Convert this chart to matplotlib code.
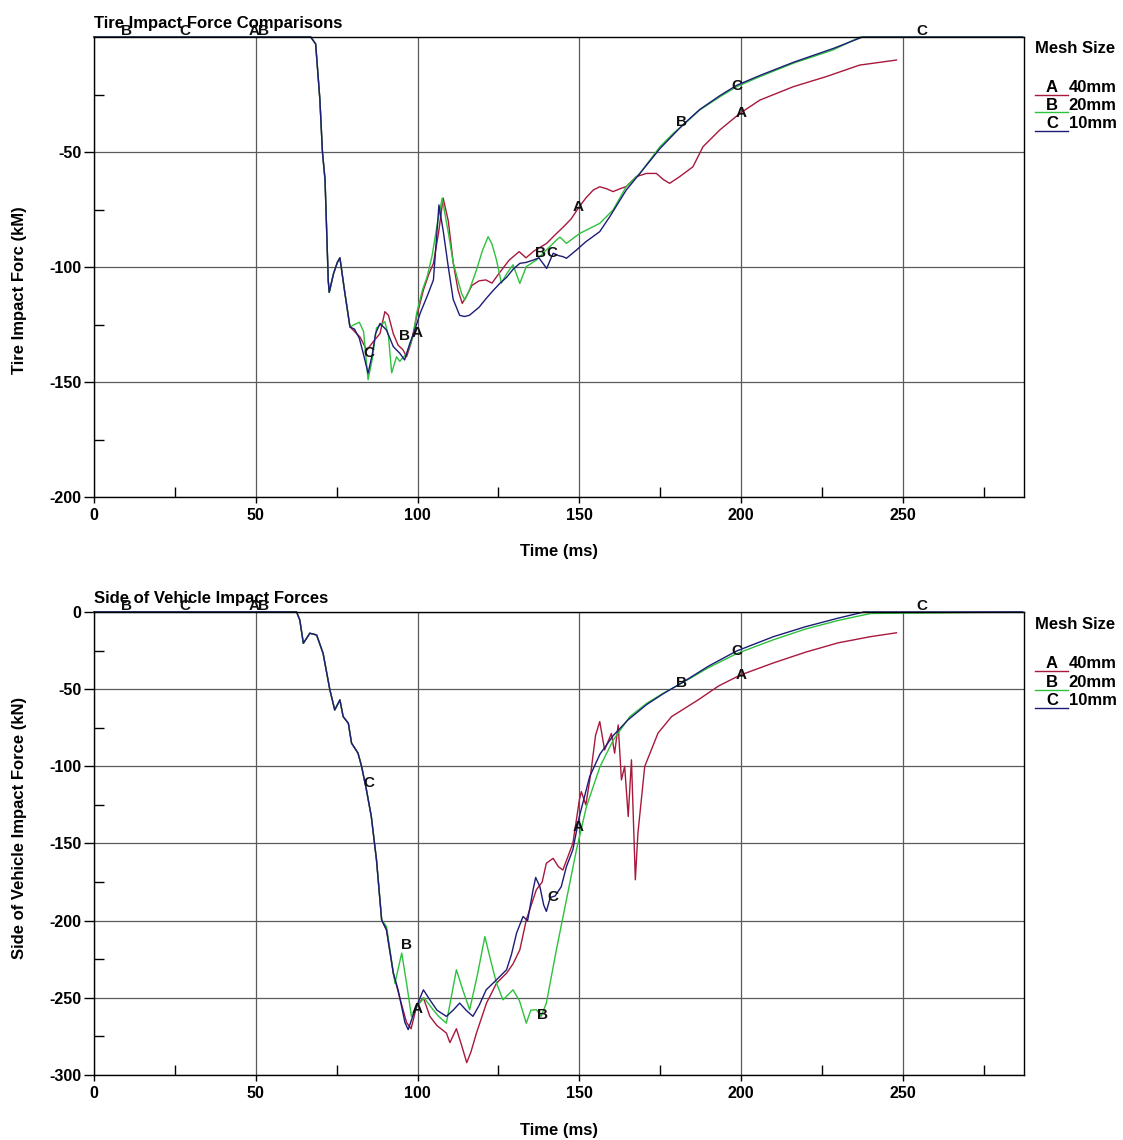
import numpy as np
import matplotlib
matplotlib.use("Agg")
import matplotlib.pyplot as plt
from matplotlib.lines import Line2D

plt.rcParams["font.family"] = ["Liberation Sans", "DejaVu Sans"]
plt.rcParams["font.weight"] = "bold"
plt.rcParams["axes.unicode_minus"] = False

# ---------------- data ----------------
MESH_LETTERS = ["A", "B", "C"]
MESH_SIZES = ["40mm", "20mm", "10mm"]
COLORS = ["#a8183c", "#2cc23c", "#1c1c78"]

# Tire impact force (top panel) - shared start, then per mesh
tire_t0 = [0, 67, 68.5, 69.8, 70.6, 71.4, 72.4, 72.7, 74, 75.2, 76, 77.5, 79.1]
tire_f0 = [0, 0, -3, -27, -50, -62, -106, -111, -103, -98, -96, -111, -126]

tire_t_a = [80.5, 82.2, 84.3, 86, 88.4, 89.9, 91, 92.5, 94, 95.5, 96.6, 98, 99.7,
            101.8, 103.5, 104.9, 106.5, 107.9, 109.5, 111, 112.5, 113.8, 115, 116.8,
            119, 121.1, 123, 125.2, 128.3, 131.4, 133.5, 136, 139.9, 142.5, 145.1,
            147.5, 149.6, 152, 154.3, 156.3, 158.5, 160.4, 162.5, 164.5, 167.6, 170.7,
            173.8, 176, 177.9, 181, 185.1, 188.2, 193.4, 199.6, 205.8, 216.1, 226.3,
            236.6, 248]
tire_f_a = [-128, -130.4, -136.2, -133, -128.9, -119.4, -121, -129, -134, -136, -139,
            -133, -121.6, -110, -103, -98.4, -85, -70, -80, -98, -110, -115.8, -113,
            -108, -106, -105.6, -107, -102.7, -97, -93.3, -96, -93, -89.7, -86, -82.5,
            -79, -74.5, -70, -66.5, -65.1, -66, -67.2, -66, -65, -60.7, -59.3, -59.3,
            -62, -63.6, -60.7, -56.4, -47.7, -40.4, -33.2, -27.4, -21.6, -17.2, -12.2,
            -10]

tire_t_b = [80.5, 82, 83.3, 84.7, 86, 87.3, 89.9, 91, 92, 93.5, 94.5, 96.6, 98.7,
            99.7, 101.5, 103, 104.5, 106, 107.6, 109.5, 111, 112.5, 113.6, 114.6, 116,
            118.2, 120, 121.8, 123, 124.4, 125.9, 127.5, 129.5, 131.6, 133.6, 136.7,
            139.5, 142.9, 144, 146, 150.1, 156.3, 160.4, 164.5, 168.7, 174.9, 179,
            182.1, 187.2, 193.4, 198.6, 205.8, 216.1, 228.4, 236.7, 287]
tire_f_b = [-125, -124, -128, -149, -140, -126.5, -123.8, -130, -146, -139, -141,
            -137.6, -130, -120.1, -110, -104, -95, -82, -70.1, -85, -98, -106, -111.5,
            -114.3, -110, -101.3, -93, -86.8, -90, -97, -107, -103, -99, -107.1, -99.8,
            -97, -93, -88.3, -87, -89.7, -85.4, -81, -75.2, -65, -59.3, -47.7, -41.9,
            -38.3, -31.7, -26, -21.6, -17.2, -11.4, -5.6, 0, 0]

tire_t_c = [80.5, 82, 83.3, 84.7, 86, 87, 88.4, 90.4, 92.5, 94.5, 96, 97.6, 99,
            100.8, 102.9, 104.9, 106.6, 108, 109.5, 111, 113, 114.5, 116, 119, 121,
            123.3, 125.5, 127.5, 129.5, 131.6, 133.5, 135.7, 137.5, 139.9, 141.9, 143.5,
            145, 146, 149.1, 152, 156.3, 159.4, 164.5, 168.7, 174.9, 179, 182.1, 187.2,
            193.4, 198.6, 205.8, 216.1, 228.4, 237.5, 287]
tire_f_c = [-127, -131, -138, -146.2, -138, -129, -124.5, -127.4, -134.6, -137.5,
            -140.4, -133.2, -128, -120.1, -112.9, -105.6, -73, -85, -100, -114, -121,
            -121.5, -121, -117.5, -114, -110.3, -107, -104.5, -101, -98.4, -98, -97,
            -96, -100.6, -94, -95, -95.5, -96.2, -92.6, -89, -84.6, -78.1, -66.5,
            -59.3, -48.5, -42.5, -38, -31.5, -25.5, -21, -16.7, -11, -5, 0, 0]

tire_lbl_text = ["B", "C", "A", "B", "C", "B", "A", "B", "C", "A", "B", "C", "A", "C"]
tire_lbl_t = [10, 28, 49.5, 52.5, 85, 96, 100, 138, 141.5, 149.5, 181.5, 198.8, 200, 256]
tire_lbl_f = [2.6, 2.6, 2.6, 2.6, -137.5, -130, -128.5, -94, -94, -74, -37, -21.3, -33, 2.6]

# Side of vehicle impact force (bottom panel)
side_t0 = [0, 62.6, 63.6, 64.7, 66.7, 68.8, 70.8, 72.9, 74.4, 76, 77, 78.6, 79.6,
           81.6, 82.7, 84.2, 85.7, 87.3, 88.9]
side_f0 = [0, 0, -5.2, -20.3, -13.8, -14.9, -26.8, -50.5, -63.5, -57, -67.8, -72.1,
           -85, -91.5, -100.1, -115.3, -132.5, -160.6, -199.5]

side_t_a = [90.4, 92.5, 94.5, 96.6, 98, 99.7, 101.8, 103.8, 106, 108.9, 110, 112,
            113.5, 115.2, 116.5, 118.2, 121.3, 124.4, 127.5, 129.5, 131.6, 133.6, 136.7,
            138.5, 139.8, 141.9, 143.5, 144.9, 148, 150, 150.6, 152, 153.5, 155, 156.3,
            157.8, 159.9, 160.9, 162, 163, 164, 165.1, 166.1, 167.3, 168.1, 170.2, 174.3,
            178.5, 186.7, 193, 199.6, 210, 220, 230, 240, 248]
side_f_a = [-206, -234, -250, -266, -270, -255.5, -250, -262, -268, -272.8, -279, -270,
            -280, -292, -285, -272.8, -253.4, -240.5, -234, -228, -218.9, -199.5, -180,
            -175, -162.8, -159.6, -165, -167.2, -149.9, -121.8, -116.4, -125, -105, -80,
            -71, -89.4, -78.7, -91.5, -73.2, -108.8, -100, -132.5, -95.8, -173.5,
            -143.3, -100.1, -78.5, -67.8, -57, -48, -41, -33, -26, -20, -16, -13.5]

side_t_b = [90.4, 93, 95.1, 96.6, 98.1, 100, 102, 104.8, 106.5, 108.9, 112, 114, 116.1,
            118.5, 120.8, 122.5, 124.4, 126.4, 129.5, 131.5, 133.6, 135, 136.7, 138.2,
            139.8, 142.9, 146, 149.1, 152.2, 156.4, 160.5, 165.6, 170.8, 175.9, 181.6,
            190, 198.6, 210, 220, 230, 240, 287]
side_f_b = [-203.8, -240.5, -221, -240.5, -262, -255, -250, -257.7, -262, -266.4,
            -231.8, -245, -257.7, -235, -210.3, -225, -240.5, -251.3, -244.8, -252,
            -266.4, -258, -257.7, -262, -253.4, -218.9, -186.5, -154.1, -126, -100.1,
            -82.9, -67.8, -59.2, -52.7, -46.2, -36, -27, -18, -11, -5.5, -1, 0]

side_t_c = [90.4, 92.5, 94, 96.1, 97.1, 98.5, 99.7, 101.8, 103.8, 106, 108.9, 111, 113,
            115, 117.1, 119, 121.2, 124.4, 127.5, 129, 130.6, 132.6, 134, 135.7, 136.5,
            137.8, 139, 139.8, 141, 142.5, 144.4, 146, 148, 150, 153.2, 156.4, 160.5,
            165, 170.8, 175.9, 181.6, 190, 198.6, 210, 220, 230, 238, 287]
side_f_c = [-206, -234, -245, -266, -270.6, -262, -255.5, -244.8, -251.3, -258, -262,
            -258, -253.4, -258, -262, -255, -244.8, -238.3, -231.8, -222, -208, -197.3,
            -200, -180, -172, -178, -190, -194, -185, -184, -178, -165, -154, -132.5,
            -106.6, -92, -80, -70, -60, -53, -46, -35, -25.3, -16, -9.5, -4, 0, 0]

side_lbl_text = ["B", "C", "A", "B", "C", "B", "A", "B", "C", "A", "B", "C", "A", "C"]
side_lbl_t = [10, 28, 49.5, 52.5, 85, 96.5, 100, 138.5, 141.8, 149.5, 181.6, 198.8, 200, 256]
side_lbl_f = [3.9, 3.9, 3.9, 3.9, -110.8, -216, -257, -261, -184.6, -139, -46, -25.3, -40.8, 3.9]


def style_axes(ax, ymin, yticks, yminor, ylabel, title, ylabel_y):
    ax.set_xlim(0, 287.4)
    ax.set_ylim(ymin, 0)
    ax.set_xticks([0, 50, 100, 150, 200, 250])
    ax.set_xticks([25, 75, 125, 175, 225, 275], minor=True)
    ax.set_yticks(yticks)
    ax.set_yticks(yminor, minor=True)
    ax.tick_params(axis="x", which="major", direction="out", length=4, width=1,
                   labelsize=11.5, pad=4)
    ax.tick_params(axis="y", which="major", direction="out", length=7.5, width=1,
                   labelsize=11.5, pad=1.5)
    ax.tick_params(which="minor", direction="in", length=7.5, width=1)
    for lbl in ax.get_xticklabels() + ax.get_yticklabels():
        lbl.set_fontweight("bold")
    ax.grid(True, which="major", color="#5a5a5a", linewidth=0.9)
    for sp in ax.spines.values():
        sp.set_linewidth(1)
        sp.set_color("black")
    ax.set_xlabel("Time (ms)", fontsize=12, fontweight="bold")
    ax.xaxis.set_label_coords(0.5, -0.103)
    ax.set_ylabel(ylabel, fontsize=12, fontweight="bold")
    ax.yaxis.set_label_coords(-0.072, ylabel_y)
    ax.text(0.0, 1.02, title, transform=ax.transAxes, fontsize=12,
            fontweight="bold", ha="left", va="baseline")


def draw_panel(ax, t0, f0, series, lbl_text, lbl_t, lbl_f, legend_y):
    for (t, f), color in zip(series, COLORS):
        ax.plot(np.concatenate([t0, t]), np.concatenate([f0, f]),
                color=color, linewidth=1.0, clip_on=False)
    # curve letters, as the plotting program puts them along each curve
    for s, x, y in zip(lbl_text, lbl_t, lbl_f):
        ax.text(x, y, s, fontsize=11, fontweight="bold", ha="center",
                va="center", color="#111111", clip_on=False)
    # legend drawn beside the plot
    ax.text(1.012, legend_y[0], "Mesh Size", transform=ax.transAxes,
            fontsize=12, fontweight="bold", ha="left", va="center")
    for i, (letter, size) in enumerate(zip(MESH_LETTERS, MESH_SIZES)):
        y = legend_y[i + 1]
        ax.text(1.030, y, letter, transform=ax.transAxes, fontsize=12,
                fontweight="bold", ha="center", va="center")
        ax.text(1.048, y, size, transform=ax.transAxes, fontsize=12,
                fontweight="bold", ha="left", va="center")
        ax.add_line(Line2D([1.012, 1.047], [y - 0.016, y - 0.016],
                           transform=ax.transAxes, color=COLORS[i],
                           linewidth=1.0, clip_on=False))


fig = plt.figure(figsize=(11.23, 11.40), dpi=100)
ax1 = fig.add_axes([0.0837, 0.5640, 0.8281, 0.4035])
ax2 = fig.add_axes([0.0837, 0.0570, 0.8281, 0.4062])

style_axes(ax1, -200, [-200, -150, -100, -50], [-175, -125, -75, -25],
           "Tire Impact Forc (kM)", "Tire Impact Force Comparisons", 0.45)
draw_panel(ax1, tire_t0, tire_f0,
           [(tire_t_a, tire_f_a), (tire_t_b, tire_f_b), (tire_t_c, tire_f_c)],
           tire_lbl_text, tire_lbl_t, tire_lbl_f,
           [0.976, 0.891, 0.852, 0.811])

style_axes(ax2, -300, [-300, -250, -200, -150, -100, -50, 0],
           [-275, -225, -175, -125, -75, -25],
           "Side of Vehicle Impact Force (kN)", "Side of Vehicle Impact Forces", 0.533)
draw_panel(ax2, side_t0, side_f0,
           [(side_t_a, side_f_a), (side_t_b, side_f_b), (side_t_c, side_f_c)],
           side_lbl_text, side_lbl_t, side_lbl_f,
           [0.972, 0.888, 0.847, 0.808])

fig.savefig("out.png", dpi=100, facecolor="white")
